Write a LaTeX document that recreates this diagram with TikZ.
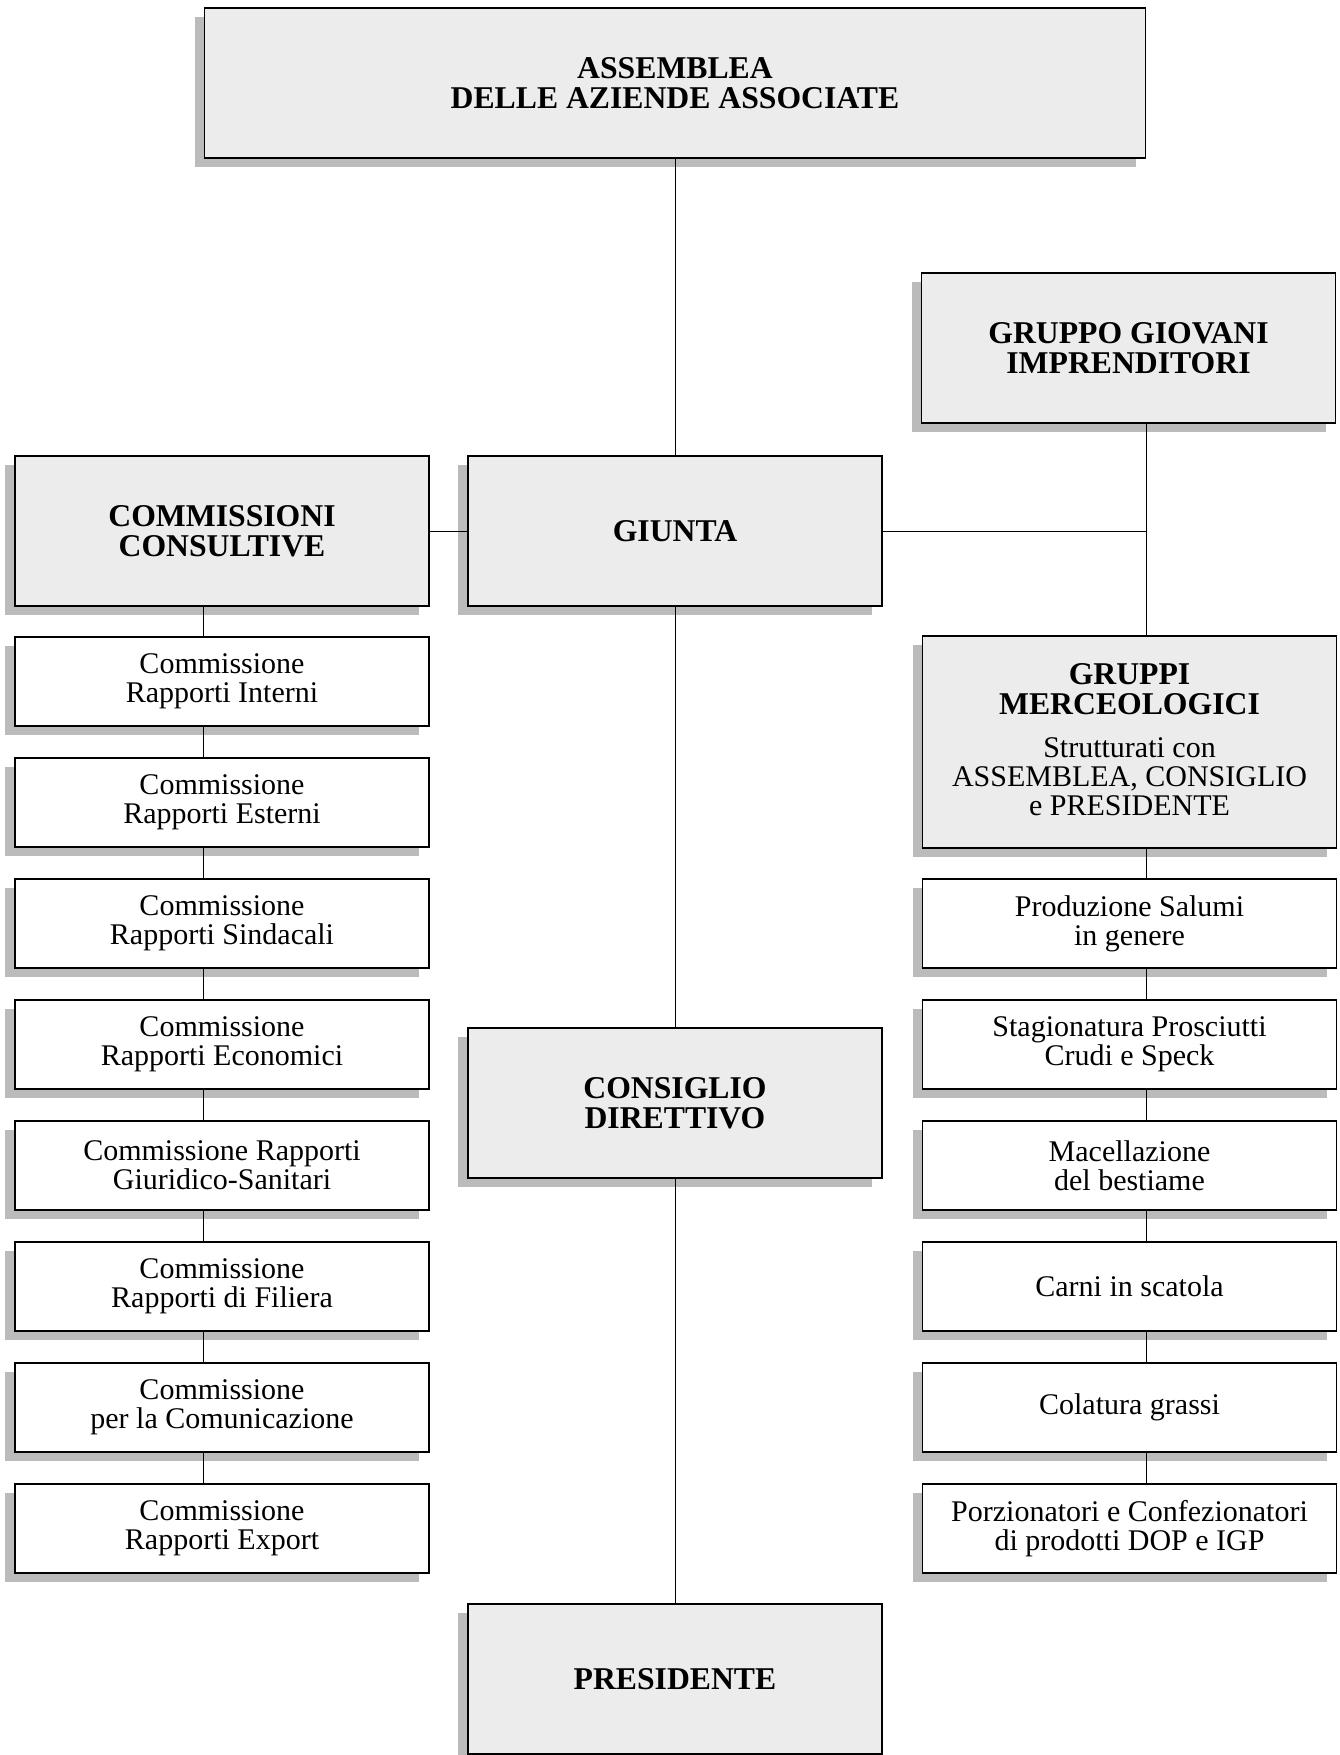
\documentclass[tikz,border=0pt]{standalone}
\usepackage{fontspec}
\setmainfont{Liberation Serif}
\usetikzlibrary{shadows}
\definecolor{boxgray}{RGB}{236,236,236}
\definecolor{shadowgray}{RGB}{187,187,187}
\newcommand{\titlef}{\bfseries\fontsize{31.7}{30}\selectfont}
\newcommand{\itemf}{\fontsize{30}{29}\selectfont}
\tikzset{
  basebox/.style={draw=black, line width=1.2pt, align=center, inner sep=0pt,
    general shadow={fill=shadowgray, shadow xshift=-10pt, shadow yshift=-9pt}},
  titlebox/.style={basebox, fill=boxgray, font=\titlef, minimum width=414pt, minimum height=150pt},
  itembox/.style={basebox, fill=white, font=\itemf, minimum width=414pt, minimum height=89pt},
  conn/.style={draw=black, line width=1pt},
  txt/.style={align=center, inner sep=0pt}
}
\begin{document}
\begin{tikzpicture}[x=1pt,y=-1pt]
\useasboundingbox (0,0) rectangle (1339,1755);
\fill[white] (0,0) rectangle (1339,1755);

% top
\node[titlebox, minimum width=941pt] (assem) at (675,83) {ASSEMBLEA\\DELLE AZIENDE ASSOCIATE};
\node[titlebox] (giovani) at (1128.5,348) {GRUPPO GIOVANI\\IMPRENDITORI};
\node[titlebox] (comm) at (222,531) {COMMISSIONI\\CONSULTIVE};
\node[titlebox] (giunta) at (675,531) {GIUNTA};
\node[titlebox, minimum height=212pt] (gm) at (1129.5,742) {};
\node[txt, font=\titlef] (gmtitle) at (1129.5,689) {GRUPPI\\MERCEOLOGICI};
\node[txt, font=\itemf] (gmsub) at (1129.5,777) {Strutturati con\\ASSEMBLEA, CONSIGLIO\\e PRESIDENTE};
\node[titlebox] (consiglio) at (675,1103) {CONSIGLIO\\DIRETTIVO};
\node[titlebox] (pres) at (675,1679) {PRESIDENTE};

% left column
\node[itembox] (c1) at (222,681.5) {Commissione\\Rapporti Interni};
\node[itembox] (c2) at (222,802.5) {Commissione\\Rapporti Esterni};
\node[itembox] (c3) at (222,923.5) {Commissione\\Rapporti Sindacali};
\node[itembox] (c4) at (222,1044.5) {Commissione\\Rapporti Economici};
\node[itembox] (c5) at (222,1165.5) {Commissione Rapporti\\Giuridico-Sanitari};
\node[itembox] (c6) at (222,1286.5) {Commissione\\Rapporti di Filiera};
\node[itembox] (c7) at (222,1407.5) {Commissione\\per la Comunicazione};
\node[itembox] (c8) at (222,1528.5) {Commissione\\Rapporti Export};

% right column
\node[itembox] (g1) at (1129.5,923.5) {Produzione Salumi\\in genere};
\node[itembox] (g2) at (1129.5,1044.5) {Stagionatura Prosciutti\\Crudi e Speck};
\node[itembox] (g3) at (1129.5,1165.5) {Macellazione\\del bestiame};
\node[itembox] (g4) at (1129.5,1286.5) {Carni in scatola};
\node[itembox] (g5) at (1129.5,1407.5) {Colatura grassi};
\node[itembox] (g6) at (1129.5,1528.5) {Porzionatori e Confezionatori\\di prodotti DOP e IGP};

% connector guide coordinates
\coordinate (lx) at (203,0);
\coordinate (rj) at (1146,531);

% middle
\draw[conn] (assem.south) -- (giunta.north);
\draw[conn] (giunta.south) -- (consiglio.north);
\draw[conn] (consiglio.south) -- (pres.north);
\draw[conn] (giunta.west) -- (comm.east);
\draw[conn] (giunta.east) -- (rj);
\draw[conn] (rj |- giovani.south) -- (rj |- gm.north);

% left chain
\draw[conn] (lx |- comm.south) -- (lx |- c1.north);
\draw[conn] (lx |- c1.south) -- (lx |- c2.north);
\draw[conn] (lx |- c2.south) -- (lx |- c3.north);
\draw[conn] (lx |- c3.south) -- (lx |- c4.north);
\draw[conn] (lx |- c4.south) -- (lx |- c5.north);
\draw[conn] (lx |- c5.south) -- (lx |- c6.north);
\draw[conn] (lx |- c6.south) -- (lx |- c7.north);
\draw[conn] (lx |- c7.south) -- (lx |- c8.north);

% right chain
\draw[conn] (rj |- gm.south) -- (rj |- g1.north);
\draw[conn] (rj |- g1.south) -- (rj |- g2.north);
\draw[conn] (rj |- g2.south) -- (rj |- g3.north);
\draw[conn] (rj |- g3.south) -- (rj |- g4.north);
\draw[conn] (rj |- g4.south) -- (rj |- g5.north);
\draw[conn] (rj |- g5.south) -- (rj |- g6.north);
\end{tikzpicture}
\end{document}
